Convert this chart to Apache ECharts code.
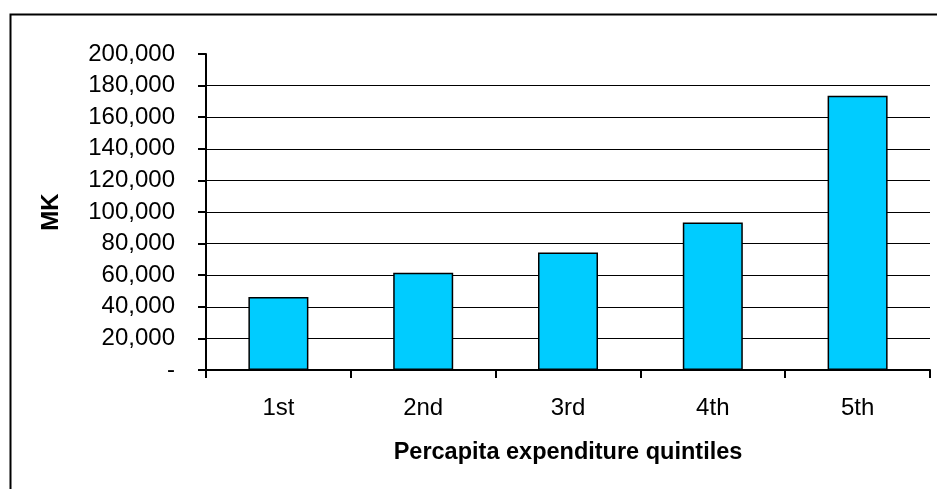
<!DOCTYPE html>
<html>
<head>
<meta charset="utf-8">
<script src="https://cdn.jsdelivr.net/npm/echarts@6/dist/echarts.min.js"></script>
<style>html,body{margin:0;padding:0;background:#fff}#c{width:937px;height:489px}</style>
</head>
<body>
<div id="c"></div>
<script>
const categories = ['1st', '2nd', '3rd', '4th', '5th'];
const values = [46200, 61500, 74400, 93400, 173600];
const yMin = 0, yMax = 200000, yStep = 20000;
const xAxisTitle = 'Percapita expenditure quintiles';
const yAxisTitle = 'MK';

const FONT = '"Liberation Sans", Arial, sans-serif';
const nLines = Math.round((yMax - yMin) / yStep) + 1;
const gridColors = [];
for (let i = 0; i < nLines; i++) gridColors.push(i === nLines - 1 ? 'rgba(0,0,0,0)' : '#000');

const chart = echarts.init(document.getElementById('c'), null, {renderer: 'canvas'});
chart.setOption({
  animation: false,
  backgroundColor: '#fff',
  graphic: [{
    type: 'rect', left: 8, top: 12, silent: true, z: -1,
    shape: {width: 1000, height: 1000},
    style: {fill: 'none', stroke: '#000', lineWidth: 2}
  }],
  grid: {left: 206, right: 7, top: 54, bottom: 119, containLabel: false},
  xAxis: {
    type: 'category',
    data: categories,
    name: xAxisTitle,
    nameLocation: 'middle',
    nameGap: 71,
    nameTextStyle: {fontFamily: FONT, fontSize: 23.5, fontWeight: 'bold', color: '#000'},
    axisLine: {lineStyle: {color: '#000', width: 2}},
    axisTick: {show: true, length: 8, lineStyle: {color: '#000', width: 2}},
    axisLabel: {fontFamily: FONT, fontSize: 24, color: '#000', margin: 26},
    splitLine: {show: false}
  },
  yAxis: {
    type: 'value',
    min: yMin, max: yMax, interval: yStep,
    name: yAxisTitle,
    nameLocation: 'middle',
    nameGap: 143,
    nameTextStyle: {fontFamily: FONT, fontSize: 24, fontWeight: 'bold', color: '#000'},
    axisLine: {show: true, lineStyle: {color: '#000', width: 2}},
    axisTick: {show: true, length: 8, lineStyle: {color: '#000', width: 2}},
    axisLabel: {
      fontFamily: FONT, fontSize: 24, color: '#000', margin: 31,
      formatter: v => v === 0 ? '-' : v.toLocaleString('en-US')
    },
    splitLine: {show: true, lineStyle: {color: gridColors, width: 1.2}}
  },
  series: [{
    type: 'bar',
    data: values,
    barWidth: 60,
    itemStyle: {color: '#00CCFF', borderColor: '#000', borderWidth: 1.5}
  }]
});
</script>
</body>
</html>
